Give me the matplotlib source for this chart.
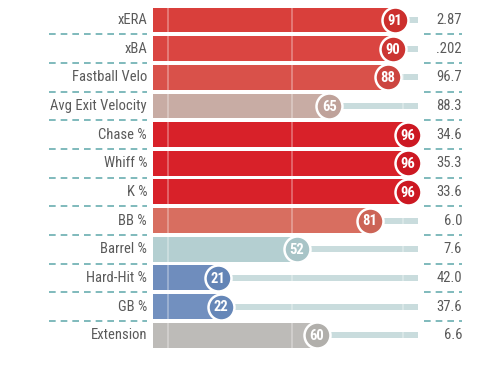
import matplotlib.pyplot as plt
from matplotlib import font_manager

labels = ["xERA", "xBA", "Fastball Velo", "Avg Exit Velocity", "Chase %", "Whiff %",
          "K %", "BB %", "Barrel %", "Hard-Hit %", "GB %", "Extension"]
pctl = [91, 90, 88, 65, 96, 96, 96, 81, 52, 21, 22, 60]
stat = ["2.87", ".202", "96.7", "88.3", "34.6", "35.3", "33.6", "6.0", "7.6", "42.0", "37.6", "6.6"]
bar_col = ["#d93f3b", "#da4541", "#d9514a", "#c8aca4", "#d82129", "#d82129", "#d82129",
           "#d86e60", "#b4cfd1", "#6f8dbd", "#7290bf", "#bdbbb8"]
dot_col = ["#cc2f2d", "#cc3532", "#cc4540", "#bfa29a", "#cc1822", "#cc1822", "#cc1822",
           "#cc6456", "#a8c4c7", "#6384b6", "#6687b8", "#b1afab"]

names = {f.name for f in font_manager.fontManager.ttflist}
fam = [f for f in ["Roboto Condensed", "Roboto", "DejaVu Sans"] if f in names]
plt.rcParams['font.family'] = fam

fig = plt.figure(figsize=(4.8, 3.88), dpi=100)
ax = fig.add_axes([0, 0, 1, 1])
ax.set_xlim(-65.2, 124.5)
ax.set_ylim(12.84, -0.698)
ax.axis('off')

x0 = -4.7
bh = 0.87
for i, v in enumerate(pctl):
    ax.barh(i, 100 - v, left=v, height=0.21, color="#c9dcdd", zorder=1)
    ax.barh(i, v - x0, left=x0, height=bh, color=bar_col[i], zorder=2)
    for gx in [1.2, 50.2, 94]:
        ax.plot([gx, gx], [i - bh / 2, i + bh / 2], color="white", alpha=0.3, lw=1.4, zorder=3)
    ax.scatter(v, i, s=350, color=dot_col[i], edgecolors="white", linewidths=1.8, zorder=4)
    ax.text(v, i + 0.03, str(v), color="white", fontsize=10.5, fontweight="bold",
            ha="center", va="center", zorder=5)
    ax.text(-7.1, i, labels[i], color="#5a5a5a", fontsize=10.5, ha="right", va="center")
    ax.text(117.4, i, stat[i], color="#5a5a5a", fontsize=10.5, ha="right", va="center")
    if i < len(pctl) - 1:
        yy = i + 0.5
        ax.plot([-45.8, -7.1], [yy, yy], color="#6aaeb0", lw=1.2, ls=(0, (4, 3)))
        ax.plot([102.4, 117.4], [yy, yy], color="#6aaeb0", lw=1.2, ls=(0, (4, 3)))

fig.savefig("out.png", dpi=100)
